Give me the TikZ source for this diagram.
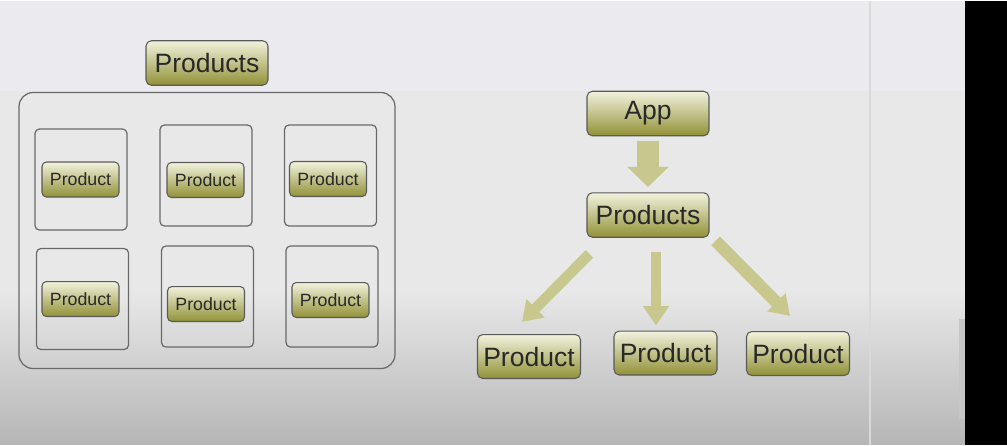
\documentclass[tikz,border=0pt]{standalone}
\usepackage{fontspec}
\setmainfont{Liberation Sans}
\usetikzlibrary{arrows.meta,calc}
\definecolor{btntop}{RGB}{242,242,222}
\definecolor{btnbot}{RGB}{145,145,55}
\definecolor{btnline}{RGB}{90,90,90}
\definecolor{frameline}{RGB}{105,105,105}
\definecolor{arrowfill}{RGB}{200,200,142}
\definecolor{screenbg}{RGB}{232,232,233}
\definecolor{screentop}{RGB}{235,234,238}
\definecolor{screenlow}{RGB}{182,182,182}
\definecolor{textgray}{RGB}{40,40,40}
\tikzset{
  btn/.style={draw=btnline, line width=.6pt, rounded corners=3pt, top color=btntop, bottom color=btnbot, text=textgray, inner sep=0pt, font=\fontsize{15.1}{18}\selectfont},
  bigbtn/.style={btn, minimum width=2.44cm, minimum height=.89cm},
  leafbtn/.style={btn, minimum width=2.06cm, minimum height=.88cm},
  itembtn/.style={btn, rounded corners=2.5pt, minimum width=1.54cm, minimum height=.7cm, font=\fontsize{10.1}{12}\selectfont},
  cell/.style={draw=frameline, line width=.7pt, rounded corners=2.5pt, minimum width=1.84cm, minimum height=2.02cm, inner sep=0pt},
  fat/.style={draw=arrowfill, line width=6pt, -{Triangle[width=14pt,length=11pt]}}
}
\begin{document}
\begin{tikzpicture}[x=.02cm, y=-.02cm]
\fill [screenbg] (0,0) rectangle (1007,444);
\fill [screentop] (0,0) rectangle (965,90);
\shade [top color=screenbg, bottom color=screenlow] (0,290) rectangle (965,444);
\draw [gray!30, line width=.6pt] (870,0) -- (870,444);
\fill [black] (965,0) rectangle (1007,444);
\fill [gray!45] (959,318) rectangle (965,418);

\draw [frameline, line width=.7pt, rounded corners=8pt] (19,92) rectangle (395,368);
\node [bigbtn] (title) at (207,62.5) {Products};
\foreach \i/\cx/\cy/\bx/\by in {1/81/179/80.5/179, 2/206/175/205.5/179.5, 3/330.5/175/328/178.5,
  4/82.5/298.5/80.5/298.5, 5/207.5/296/206/303.5, 6/332/296/330.5/299.5} {
  \node [cell] (cell\i) at (\cx,\cy) {};
  \node [itembtn] (item\i) at (\bx,\by) {Product};
}

\node [bigbtn] (app) at (648,113) {App};
\node [bigbtn] (prods) at (648,214.5) {Products};
\node [leafbtn] (leafa) at (529,356) {Product};
\node [leafbtn] (leafb) at (665.5,352.5) {Product};
\node [leafbtn] (leafc) at (798,353) {Product};
\draw [fat, line width=12pt, -{Triangle[width=23pt,length=11.5pt]}, shorten <=2.7pt, shorten >=3pt] (app) -- (prods);
\draw [fat] ($(prods.south west)+(3,16)$) -- ($(leafa.north)+(-7,-12)$);
\draw [fat] ($(prods.south)+(8,14)$) -- ($(leafb.north)+(-9.5,-5)$);
\draw [fat, line width=7pt] ($(prods.south east)+(6,3)$) -- ($(leafc.north)+(-8,-15)$);
\end{tikzpicture}
\end{document}
